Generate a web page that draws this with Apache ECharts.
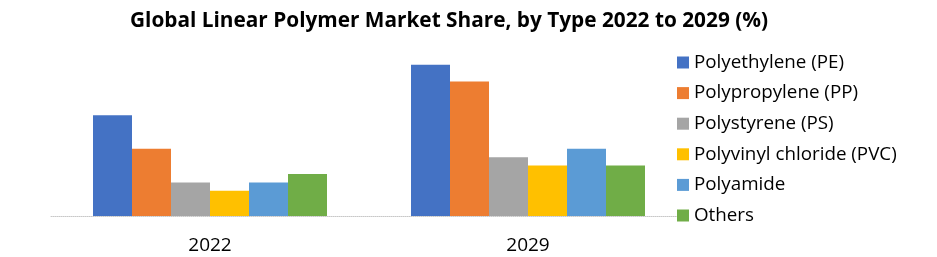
<!DOCTYPE html>
<html>
<head>
<meta charset="utf-8">
<script src="https://cdn.jsdelivr.net/npm/echarts@6/dist/echarts.min.js"></script>
<style>
html,body{margin:0;padding:0;background:#fff;}
#chart{width:937px;height:257px;}
</style>
</head>
<body>
<div id="chart"></div>
<script>
var titleText = 'Global Linear Polymer Market Share, by Type 2022 to 2029 (%)';
var categories = ['2022', '2029'];
var seriesNames = ['Polyethylene (PE)', 'Polypropylene (PP)', 'Polystyrene (PS)', 'Polyvinyl chloride (PVC)', 'Polyamide', 'Others'];
var pe = [30, 45];
var pp = [20, 40];
var ps = [10, 17.5];
var pvc = [7.5, 15];
var pa = [10, 20];
var others = [12.5, 15];
var colors = ['#4472C4', '#ED7D31', '#A5A5A5', '#FFC000', '#5B9BD5', '#70AD47'];

var dataList = [pe, pp, ps, pvc, pa, others];
var font = '"Open Sans", "Liberation Sans", sans-serif';
var chart = echarts.init(document.getElementById('chart'));
var series = dataList.map(function (d, i) {
  return {
    name: seriesNames[i],
    type: 'bar',
    data: d,
    barWidth: 39,
    barGap: '0%',
    itemStyle: { color: colors[i] }
  };
});
chart.setOption({
  animation: false,
  title: {
    text: titleText,
    left: 444,
    textAlign: 'center',
    top: 6,
    textStyle: { fontFamily: font, fontWeight: 'bold', fontSize: 20.8, color: '#000' }
  },
  legend: {
    orient: 'vertical',
    left: 672,
    top: 48,
    itemWidth: 12,
    itemHeight: 12,
    itemGap: 11.6,
    icon: 'rect',
    textStyle: { fontFamily: font, fontSize: 18.8, lineHeight: 18, color: '#000' },
    data: seriesNames
  },
  grid: { left: 51, right: 250, top: 48, bottom: 41, containLabel: false },
  xAxis: {
    type: 'category',
    data: categories,
    axisLine: { lineStyle: { color: '#C8C8C8', type: 'dotted', width: 1 } },
    axisTick: { show: false },
    axisLabel: { fontFamily: font, fontSize: 19, color: '#000', margin: 20 }
  },
  yAxis: {
    type: 'value',
    min: 0,
    max: 50,
    show: false
  },
  series: series
});
</script>
</body>
</html>
